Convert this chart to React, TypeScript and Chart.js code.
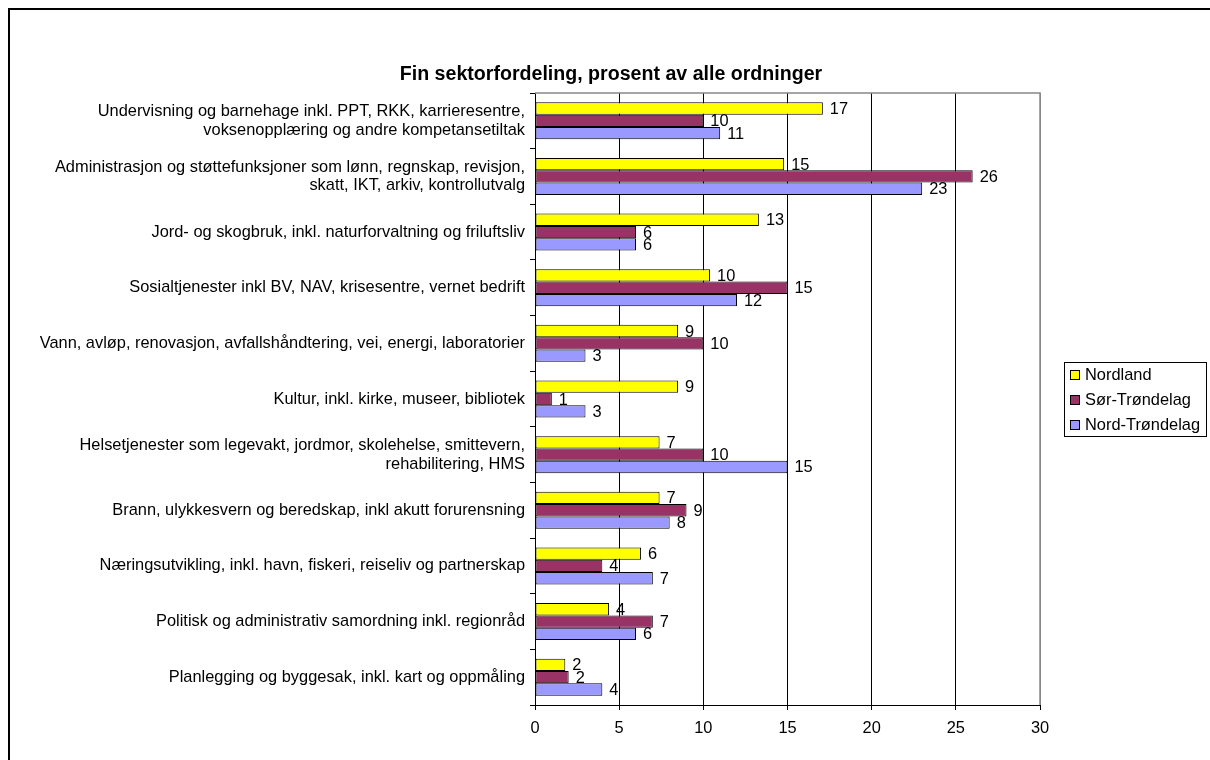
import React, { useEffect, useRef } from "react";
import { Chart, registerables } from "chart.js";

Chart.register(...registerables);

const FONT = "'Liberation Sans', Arial, Helvetica, sans-serif";

const categories: (string | string[])[] = [
  ["Undervisning og barnehage inkl. PPT, RKK, karrieresentre,", "voksenopplæring og andre kompetansetiltak"],
  ["Administrasjon og støttefunksjoner som lønn, regnskap, revisjon,", "skatt, IKT, arkiv, kontrollutvalg"],
  "Jord- og skogbruk, inkl. naturforvaltning og friluftsliv",
  "Sosialtjenester inkl BV, NAV, krisesentre, vernet bedrift",
  "Vann, avløp, renovasjon, avfallshåndtering, vei, energi, laboratorier",
  "Kultur, inkl. kirke, museer, bibliotek",
  ["Helsetjenester som legevakt, jordmor, skolehelse, smittevern,", "rehabilitering, HMS"],
  "Brann, ulykkesvern og beredskap, inkl akutt forurensning",
  "Næringsutvikling, inkl. havn, fiskeri, reiseliv og partnerskap",
  "Politisk og administrativ samordning inkl. regionråd",
  "Planlegging og byggesak, inkl. kart og oppmåling",
];

const nordland = [17.1, 14.8, 13.3, 10.4, 8.5, 8.5, 7.4, 7.4, 6.3, 4.4, 1.8];
const sorTrondelag = [10, 26, 6, 15, 10, 1, 10, 9, 4, 7, 2];
const nordTrondelag = [11, 23, 6, 12, 3, 3, 15, 8, 7, 6, 4];

const seriesNames = ["Nordland", "Sør-Trøndelag", "Nord-Trøndelag"];
const seriesColors = ["#FFFF00", "#993366", "#9999FF"];

const xMin = 0;
const xMax = 30;
const xStep = 5;

const titleText = "Fin sektorfordeling, prosent av alle ordninger";

const LABEL_SIZE = 16.4;
const TITLE_SIZE = 19.6;

const titleDraw = {
  id: "titleDraw",
  afterDraw(chart: any) {
    const ctx = chart.ctx;
    ctx.save();
    ctx.font = `bold ${TITLE_SIZE}px ${FONT}`;
    ctx.fillStyle = "#000";
    ctx.textAlign = "center";
    ctx.textBaseline = "middle";
    ctx.fillText(titleText, 601, chart.chartArea.top - 18);
    ctx.restore();
  },
};

const valueLabels = {
  id: "valueLabels",
  afterDatasetsDraw(chart: any) {
    const ctx = chart.ctx;
    ctx.save();
    ctx.font = `${LABEL_SIZE}px ${FONT}`;
    ctx.fillStyle = "#000";
    ctx.textBaseline = "middle";
    ctx.textAlign = "left";
    chart.data.datasets.forEach((ds: any, i: number) => {
      const meta = chart.getDatasetMeta(i);
      meta.data.forEach((bar: any, j: number) => {
        const v = ds.data[j];
        ctx.fillText(String(Math.round(v)), bar.x + 7, bar.y + 1);
      });
    });
    ctx.restore();
  },
};

const plotFrame = {
  id: "plotFrame",
  afterDraw(chart: any) {
    const { ctx, chartArea } = chart;
    ctx.save();
    ctx.strokeStyle = "#888";
    ctx.lineWidth = 1.5;
    ctx.beginPath();
    ctx.moveTo(chartArea.left, chartArea.top);
    ctx.lineTo(chartArea.right, chartArea.top);
    ctx.lineTo(chartArea.right, chartArea.bottom);
    ctx.stroke();
    ctx.restore();
  },
};

const legendBox = {
  id: "legendBox",
  afterDraw(chart: any) {
    const { ctx, chartArea } = chart;
    ctx.save();
    ctx.font = `${LABEL_SIZE}px ${FONT}`;
    const rowH = 25;
    const widths = seriesNames.map((n) => ctx.measureText(n).width);
    const w = Math.round(21 + Math.max(...widths) + 6);
    const h = 74;
    const left = Math.round(chartArea.right + 24);
    const top = Math.round((chartArea.top + chartArea.bottom) / 2 - h / 2);
    ctx.fillStyle = "#fff";
    ctx.fillRect(left, top, w, h);
    ctx.strokeStyle = "#000";
    ctx.lineWidth = 1;
    ctx.strokeRect(left + 0.5, top + 0.5, w, h);
    seriesNames.forEach((n, i) => {
      const cy = top + 12.5 + i * rowH;
      ctx.fillStyle = seriesColors[i];
      ctx.fillRect(left + 6.5, Math.round(cy - 4.5) + 0.5, 9, 9);
      ctx.strokeStyle = "#000";
      ctx.strokeRect(left + 6.5, Math.round(cy - 4.5) + 0.5, 9, 9);
      ctx.fillStyle = "#000";
      ctx.textBaseline = "middle";
      ctx.textAlign = "left";
      ctx.fillText(n, left + 21, cy + 1);
    });
    ctx.restore();
  },
};

export default function App() {
  const ref = useRef<HTMLCanvasElement | null>(null);

  useEffect(() => {
    document.documentElement.style.overflow = "hidden";
    if (!ref.current) return;
    const seriesData = [nordland, sorTrondelag, nordTrondelag];
    const chart = new Chart(ref.current, {
      type: "bar",
      data: {
        labels: categories,
        datasets: seriesNames.map((name, i) => ({
          label: name,
          data: seriesData[i],
          backgroundColor: seriesColors[i],
          borderColor: "#000",
          borderWidth: 1,
          borderSkipped: false,
          categoryPercentage: 0.665,
          barPercentage: 1.0,
        })),
      },
      options: {
        indexAxis: "y",
        animation: false,
        responsive: false,
        maintainAspectRatio: false,
        events: [],
        layout: { padding: { left: 0, right: 170, top: 83, bottom: 21 } },
        plugins: {
          legend: { display: false },
          tooltip: { enabled: false },
          title: { display: false },
        },
        scales: {
          x: {
            type: "linear",
            min: xMin,
            max: xMax,
            ticks: {
              stepSize: xStep,
              color: "#000",
              font: { family: FONT, size: LABEL_SIZE },
              padding: 9,
            },
            grid: {
              color: (c: any) => (c.tick && c.tick.value === xMax ? "#888" : "#000"),
              tickColor: "#000",
              tickLength: 5,
              drawTicks: true,
              lineWidth: 1,
            },
            border: { color: "#000", width: 1 },
            afterFit: (scale: any) => {
              scale.height = 34;
            },
          },
          y: {
            ticks: {
              color: "#000",
              font: { family: FONT, size: LABEL_SIZE, lineHeight: 1.15 },
              padding: 5,
              autoSkip: false,
            },
            grid: {
              drawOnChartArea: false,
              drawTicks: true,
              tickLength: 5,
              color: "#000",
              offset: true,
            },
            border: { color: "#000", width: 1 },
            afterFit: (scale: any) => {
              scale.width = 525;
            },
          },
        },
      },
      plugins: [valueLabels, plotFrame, legendBox, titleDraw],
    });
    return () => chart.destroy();
  }, []);

  return (
    <div
      style={{
        position: "fixed",
        left: 8,
        top: 8,
        width: 1202,
        height: 752,
        boxSizing: "border-box",
        borderLeft: "2px solid #000",
        borderTop: "2px solid #000",
        overflow: "hidden",
        background: "#fff",
      }}
    >
      <canvas ref={ref} width={1200} height={750} style={{ display: "block", width: 1200, height: 750 }} />
    </div>
  );
}
